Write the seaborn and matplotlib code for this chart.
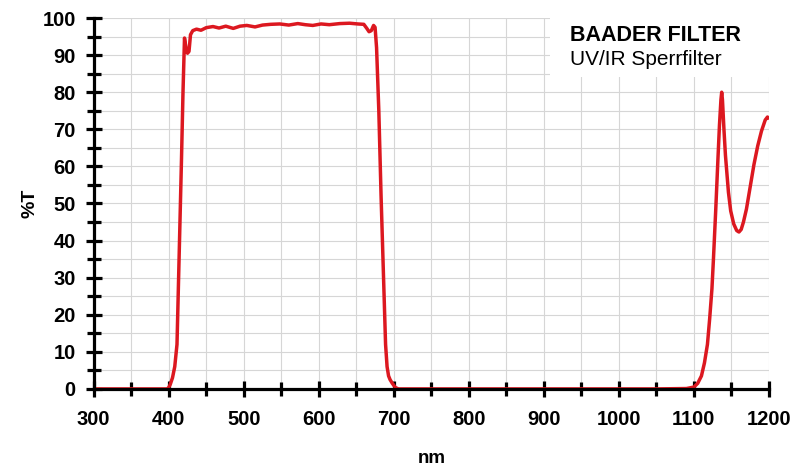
import matplotlib
matplotlib.use('Agg')
import matplotlib.pyplot as plt
import seaborn as sns
from matplotlib.ticker import MultipleLocator
from matplotlib.patches import Rectangle

# Transmissionskurve
wellenlaenge = [300, 350, 398, 400, 402, 405, 408, 411, 414, 417, 419, 421, 423, 425, 427, 429,
                432, 437, 443, 450, 459, 467, 476, 486, 495, 504, 515, 525, 536, 548, 560, 572,
                582, 592, 603, 614, 628, 641, 652, 660, 664, 667, 670, 673, 675, 677, 680, 683,
                686, 689, 691, 693, 695, 698, 702, 706, 750, 850, 950, 1050, 1090, 1100, 1105,
                1110, 1114, 1118, 1121, 1124, 1126, 1129, 1132, 1134, 1136, 1137, 1138, 1140, 1142,
                1146, 1149, 1153, 1157, 1160, 1163, 1166, 1170, 1175, 1180, 1185, 1190, 1195, 1198, 1200]
transmission = [0, 0, 0, 0.4, 1.2, 3, 6, 12, 37, 62, 80, 94.6, 92, 90.5, 91, 95.5,
                96.6, 97, 96.7, 97.4, 97.7, 97.3, 97.8, 97.2, 97.8, 98, 97.6, 98.1, 98.3, 98.4, 98.1, 98.5,
                98.2, 98, 98.4, 98.2, 98.5, 98.6, 98.4, 98.3, 97.2, 96.3, 96.6, 98, 97.5, 92, 75, 52,
                32, 12, 6, 3.5, 2.5, 1.5, 0.4, 0, 0, 0, 0, 0, 0.1, 0.5, 1.5,
                3.5, 7, 12, 19, 27, 35, 48, 62, 71, 78, 80, 78, 70, 63,
                53, 48, 44.5, 42.7, 42.3, 43, 45, 48.5, 54.5, 60.5, 65.5, 69.5, 72.5, 73.3, 73]

titel = 'BAADER FILTER'
untertitel = 'UV/IR Sperrfilter'

sns.set_style('white')
plt.rcParams['font.family'] = ['Liberation Sans', 'DejaVu Sans']
plt.rcParams['text.color'] = 'black'
plt.rcParams['axes.labelcolor'] = 'black'

fig = plt.figure(figsize=(8.01, 4.68), dpi=100)
ax = fig.add_axes([0.117, 0.169, 0.843, 0.7925])

sns.lineplot(x=wellenlaenge, y=transmission, ax=ax, color='#dc1820', linewidth=2.5)

ax.set_xlim(300, 1200)
ax.set_ylim(0, 100)
ax.xaxis.set_major_locator(MultipleLocator(100))
ax.xaxis.set_minor_locator(MultipleLocator(50))
ax.yaxis.set_major_locator(MultipleLocator(10))
ax.yaxis.set_minor_locator(MultipleLocator(5))

ax.grid(which='both', color='#d6d6d6', linewidth=0.8, linestyle='-')
ax.set_axisbelow(True)

for s in ['top', 'right']:
    ax.spines[s].set_visible(False)
for s in ['left', 'bottom']:
    ax.spines[s].set_linewidth(2.3)
    ax.spines[s].set_color('black')

ax.tick_params(which='both', bottom=True, left=True, direction='inout', width=2.3,
               colors='black', labelcolor='black')
ax.tick_params(which='major', length=12)
ax.tick_params(which='minor', length=10)
ax.tick_params(axis='x', which='major', pad=9)
ax.tick_params(axis='y', which='major', pad=7)
for lab in ax.get_xticklabels() + ax.get_yticklabels():
    lab.set_fontweight('bold')
    lab.set_fontsize(14.5)

ax.set_xlabel('nm', fontsize=13.5, fontweight='bold', labelpad=15)
ax.set_ylabel('%T', fontsize=14, fontweight='bold', labelpad=3)

# weisser Kasten oben rechts
ax.add_patch(Rectangle((0.676, 0.84), 0.324, 0.16, transform=ax.transAxes,
                       facecolor='white', edgecolor='none', zorder=3))
ax.text(0.705, 0.952, titel, transform=ax.transAxes, fontsize=15.5, fontweight='bold',
        va='center', ha='left', zorder=4)
ax.text(0.705, 0.888, untertitel, transform=ax.transAxes, fontsize=15,
        va='center', ha='left', zorder=4)

fig.savefig('out.png', dpi=100)
